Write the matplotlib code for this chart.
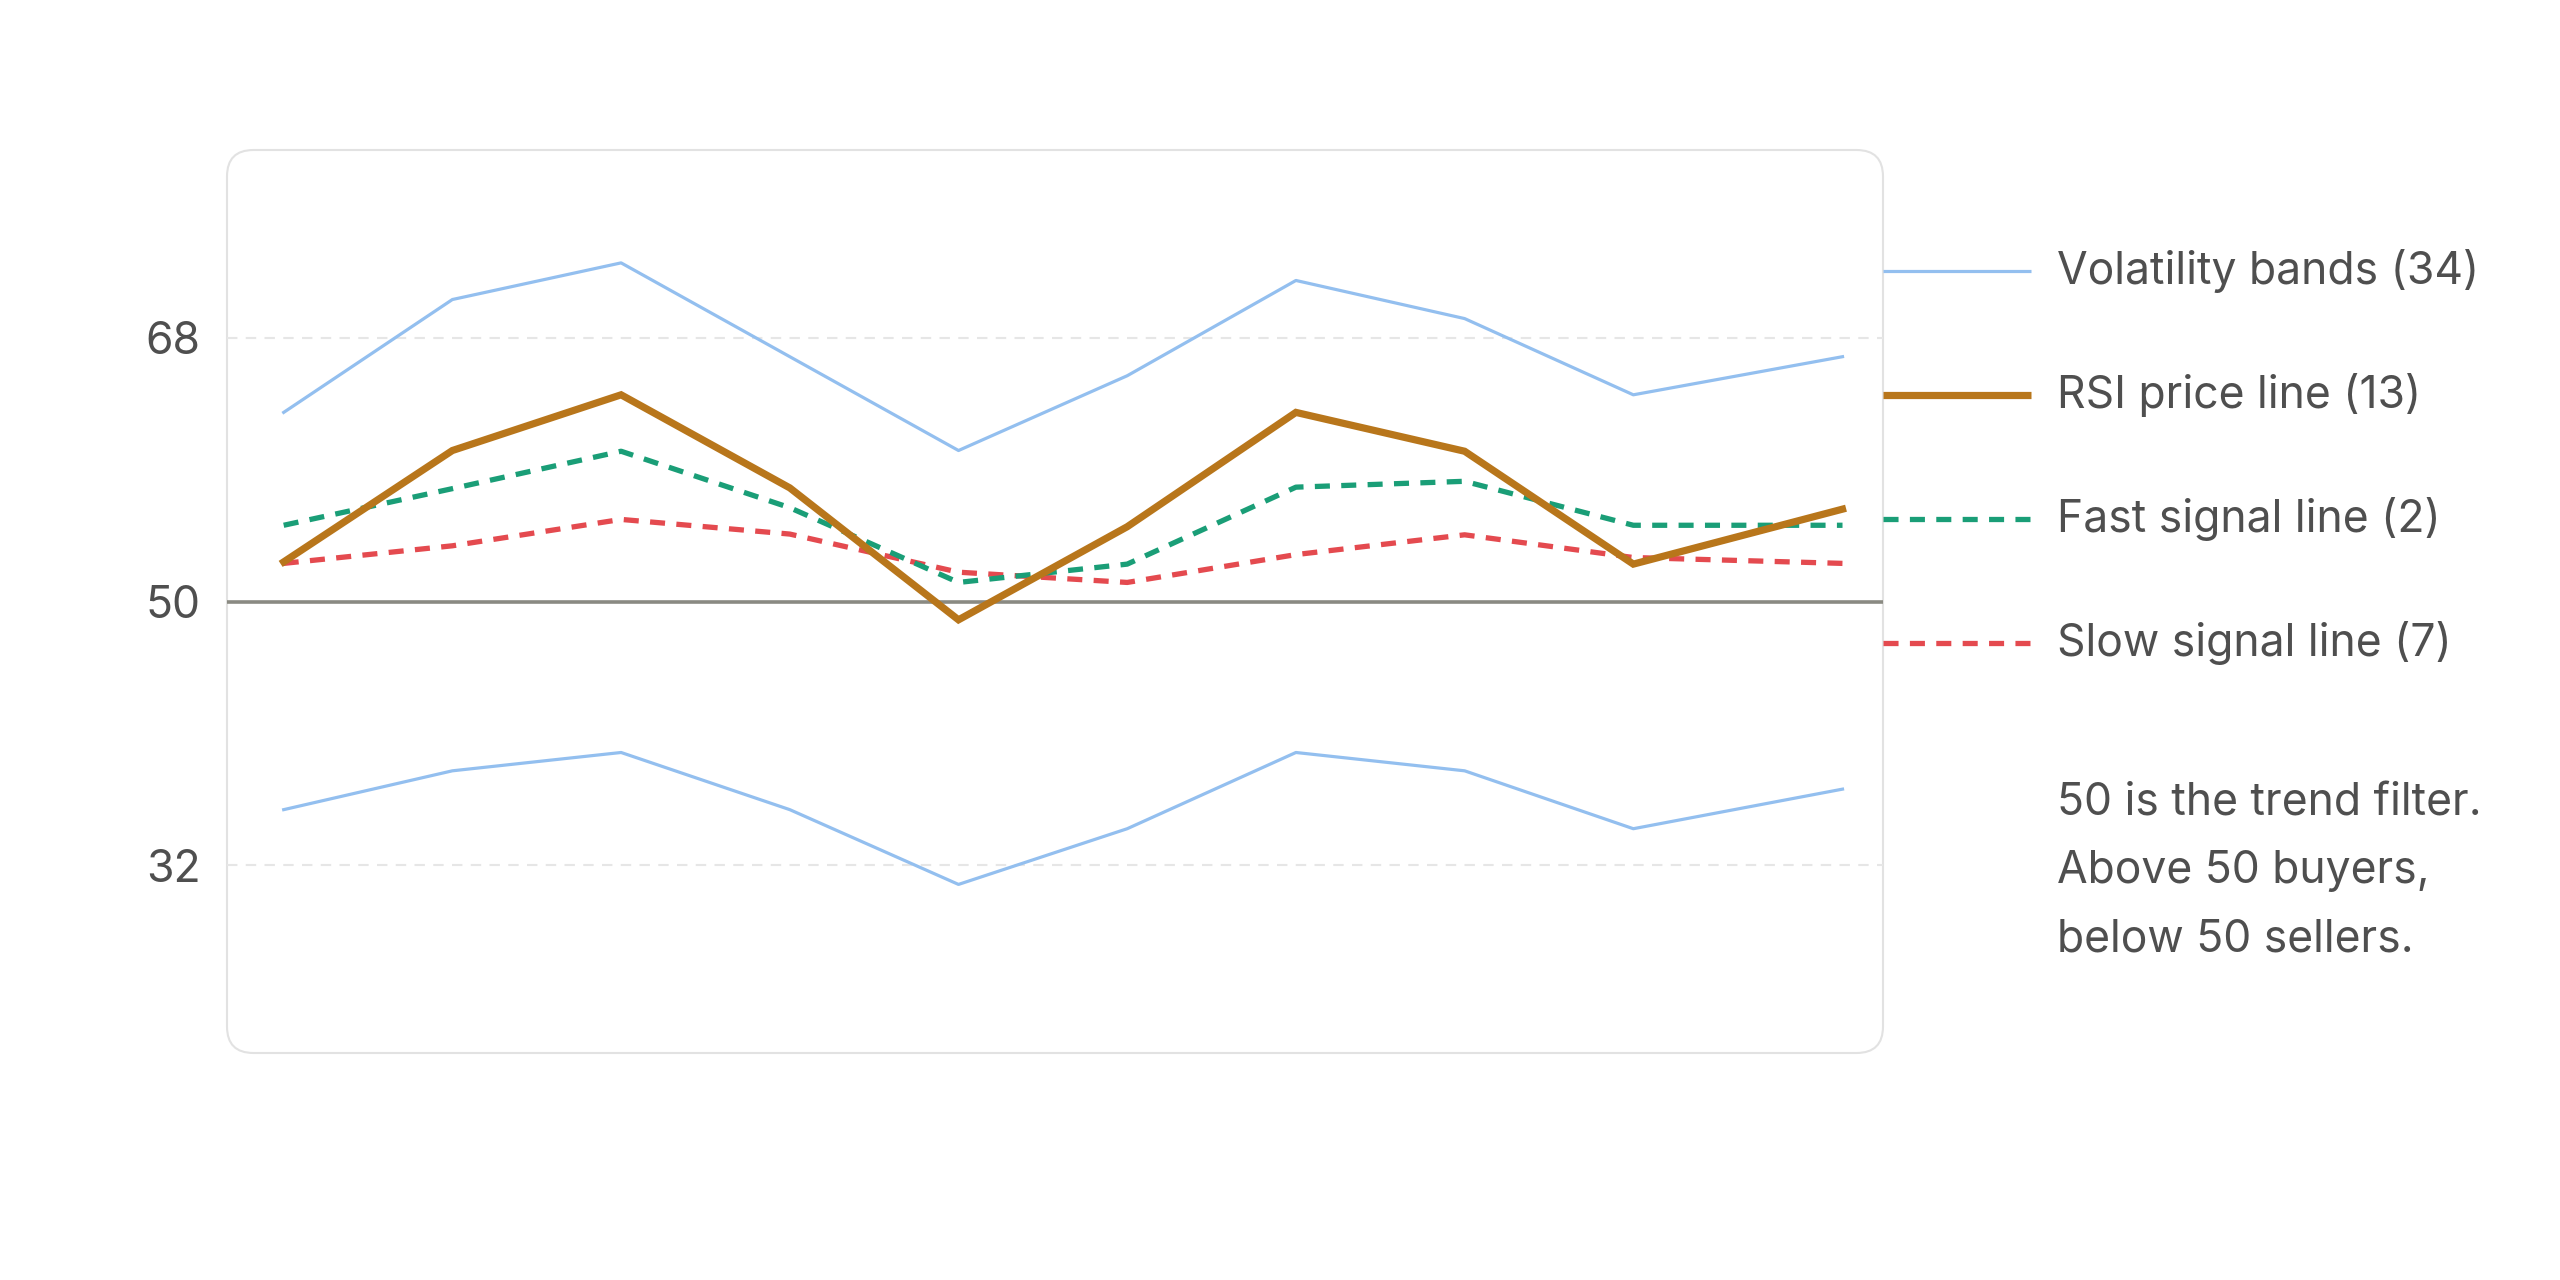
import numpy as np
import matplotlib.pyplot as plt
from matplotlib.patches import FancyBboxPatch
from matplotlib.lines import Line2D

plt.rcParams['font.family'] = ['Inter', 'DejaVu Sans']

# valeurs
periods = [0, 1, 2, 3, 4, 5, 6, 7, 8, 9.24]
upper_band = [62.9, 70.6, 73.1, 66.7, 60.3, 65.4, 71.9, 69.3, 64.1, 66.7]
lower_band = [35.8, 38.45, 39.7, 35.8, 30.7, 34.5, 39.7, 38.45, 34.5, 37.2]
rsi_line = [52.7, 60.3, 64.1, 57.75, 48.75, 55.1, 62.9, 60.25, 52.55, 56.3]
fast_signal = [55.2, 57.7, 60.25, 56.4, 51.3, 52.55, 57.8, 58.2, 55.2, 55.2]
slow_signal = [52.6, 53.8, 55.6, 54.6, 52.0, 51.3, 53.2, 54.55, 53.0, 52.6]
y_ticks = [32, 50, 68]
trend_level = 50

labels = ['Volatility bands (34)', 'RSI price line (13)',
          'Fast signal line (2)', 'Slow signal line (7)']
note = ['50 is the trend filter.', 'Above 50 buyers,', 'below 50 sellers.']

c_band = '#93bfef'
c_rsi = '#b8761b'
c_fast = '#1a9e77'
c_slow = '#e44a4f'
c_text = '#4f4f4f'

fig = plt.figure(figsize=(25.6, 12.8), dpi=100)
ax = fig.add_axes([227 / 2560, 1 - 1053 / 1280, (1883 - 227) / 2560, (1053 - 150) / 1280])

# cadre arrondi
for s in ax.spines.values():
    s.set_visible(False)
box = FancyBboxPatch((0, 0), 1, 1, transform=ax.transAxes,
                     boxstyle='round,pad=0,rounding_size=0.016',
                     mutation_aspect=1656 / 903,
                     facecolor='white', edgecolor='#e2e2e2', linewidth=1.5,
                     zorder=0, clip_on=False)
ax.add_patch(box)
ax.patch.set_visible(False)

for t in y_ticks:
    if t != trend_level:
        ax.axhline(t, color='#e6e6e6', linewidth=1.5, linestyle=(0, (5, 4)), zorder=1)
ax.axhline(trend_level, color='#8a8a82', linewidth=2.6, zorder=2)

dash = (0, (2.85, 2.15))
band_kw = dict(color=c_band, linewidth=2.3, zorder=3)
rsi_kw = dict(color=c_rsi, linewidth=5.2, zorder=6, solid_joinstyle='miter')
fast_kw = dict(color=c_fast, linewidth=3.8, linestyle=dash, zorder=5)
slow_kw = dict(color=c_slow, linewidth=3.8, linestyle=dash, zorder=4)

ax.plot(periods, upper_band, **band_kw)
ax.plot(periods, lower_band, **band_kw)
ax.plot(periods, slow_signal, **slow_kw)
ax.plot(periods, fast_signal, **fast_kw)
ax.plot(periods, rsi_line, **rsi_kw)

ax.set_xlim(-0.336, 9.48)
ax.set_ylim(19.2, 80.8)
ax.set_xticks([])
ax.set_yticks(y_ticks)
ax.tick_params(axis='y', length=0, pad=19, labelsize=32, labelcolor=c_text)

# légende manuelle à droite
leg_y = [1 - 271 / 1280, 1 - 395 / 1280, 1 - 519 / 1280, 1 - 643 / 1280]
styles = [band_kw, rsi_kw, fast_kw, slow_kw]
for y, lab, kw in zip(leg_y, labels, styles):
    kw2 = {k: v for k, v in kw.items() if k != 'zorder'}
    fig.add_artist(Line2D([1883 / 2560, 2031 / 2560], [y, y], transform=fig.transFigure,
                          solid_capstyle='butt', dash_capstyle='butt', **kw2))
    fig.text(2057 / 2560, y, lab, fontsize=32, color=c_text, va='center', ha='left')

for i, line in enumerate(note):
    fig.text(2057 / 2560, 1 - (803 + 68 * i) / 1280, line, fontsize=32,
             color=c_text, va='center', ha='left')

fig.savefig('out.png', dpi=100, facecolor='white')
